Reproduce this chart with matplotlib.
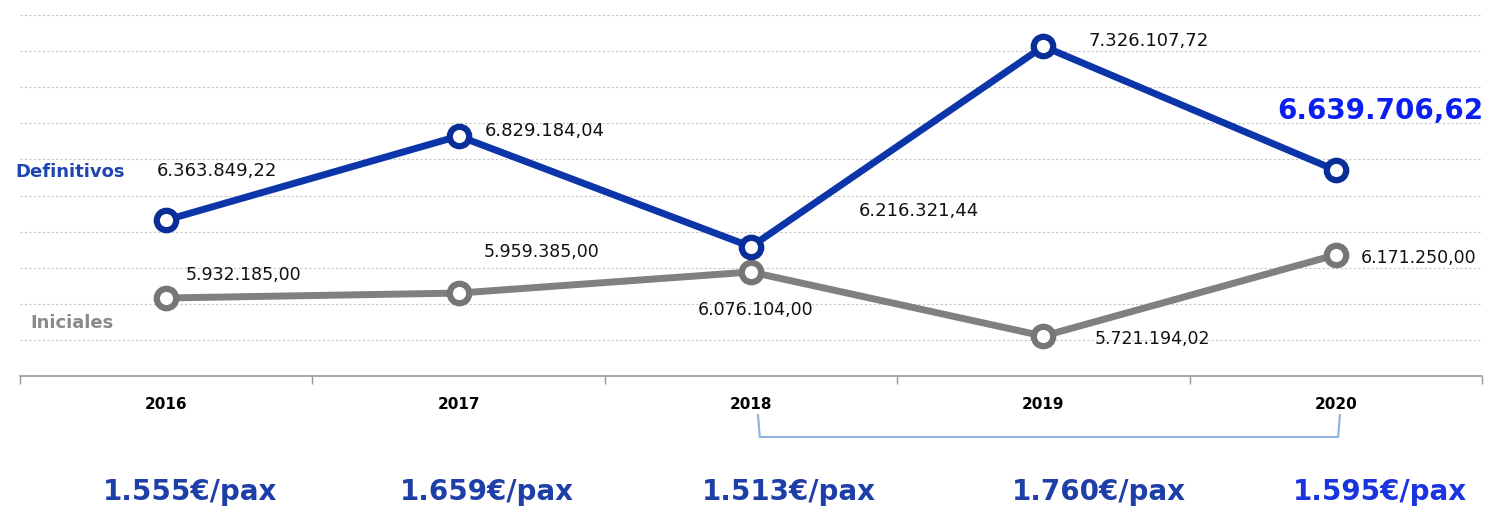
import matplotlib.pyplot as plt
import matplotlib.transforms as mtransforms
from matplotlib.lines import Line2D
import numpy as np

# Datos
years = ["2016", "2017", "2018", "2019", "2020"]
definitivos = [6363849.22, 6829184.04, 6216321.44, 7326107.72, 6639706.62]
iniciales = [5932185.00, 5959385.00, 6076104.00, 5721194.02, 6171250.00]
per_pax = ["1.555€/pax", "1.659€/pax", "1.513€/pax", "1.760€/pax", "1.595€/pax"]


def fmt_es(v):
    s = f"{v:,.2f}"
    return s.replace(",", "X").replace(".", ",").replace("X", ".")


BLUE = "#0b35a8"
GRAY = "#808080"

fig = plt.figure(figsize=(14.88, 5.09), dpi=100)
ax = fig.add_axes([20 / 1488, 133 / 509, 1462 / 1488, 361 / 509])

x = np.arange(len(years))

ax.plot(x, iniciales, color=GRAY, lw=5, marker="o", ms=14, mew=4.5,
        mfc="white", mec="#767676", zorder=3, solid_capstyle="round")
ax.plot(x, definitivos, color=BLUE, lw=5, marker="o", ms=14, mew=4.5,
        mfc="white", mec="#0a2e98", zorder=4, solid_capstyle="round")

ax.set_xlim(-0.5, len(years) - 0.5)
ax.set_ylim(5500000, 7500000)
ax.set_yticks(np.arange(5700000, 7500001, 200000))
ax.yaxis.grid(True, color="#c4c4c4", linestyle=(0, (2, 2)), lw=0.8)
ax.set_axisbelow(True)
ax.tick_params(axis="y", length=0, labelleft=False)

ax.set_xticks(x)
ax.set_xticklabels(years, fontsize=11, fontweight="bold")
ax.set_xticks(np.arange(-0.5, len(years)), minor=True)
ax.tick_params(axis="x", which="major", length=0, pad=15)
ax.tick_params(axis="x", which="minor", length=6, color="#999999", width=1)

for s in ["top", "right", "left"]:
    ax.spines[s].set_visible(False)
ax.spines["bottom"].set_color("#999999")
ax.spines["bottom"].set_linewidth(1.2)

# etiquetas de datos (offsets en píxeles)
def_off = [(-9, 49), (26, 5), (108, 36), (45, 5), (-59, 59)]
ini_off = [(19, 23), (25, 41), (-53, -38), (51, -3), (25, -3)]

for i, v in enumerate(definitivos):
    if i == len(definitivos) - 1:
        ax.annotate(fmt_es(v), (x[i], v), xytext=def_off[i], textcoords="offset pixels",
                    ha="left", va="center", fontsize=20, fontweight="bold", color="#0a1ef0")
    else:
        ax.annotate(fmt_es(v), (x[i], v), xytext=def_off[i], textcoords="offset pixels",
                    ha="left", va="center", fontsize=13, color="#111111")

for i, v in enumerate(iniciales):
    ax.annotate(fmt_es(v), (x[i], v), xytext=ini_off[i], textcoords="offset pixels",
                ha="left", va="center", fontsize=12.5, color="#111111")

fig.text(15 / 1488, 1 - 172 / 509, "Definitivos", fontsize=13, fontweight="bold",
         color="#1f45b0", ha="left", va="center")
fig.text(30 / 1488, 1 - 323 / 509, "Iniciales", fontsize=13, fontweight="bold",
         color="#8a8a8a", ha="left", va="center")

# €/pax debajo
trans = mtransforms.blended_transform_factory(ax.transData, fig.transFigure)
pax_x = [0.08, 0.095, 0.13, 0.19, 0.15]
pax_colors = ["#1f3fa8"] * 4 + ["#1a34e0"]
for i, t in enumerate(per_pax):
    ax.text(x[i] + pax_x[i], 1 - 492 / 509, t, transform=trans, ha="center", va="center",
            fontsize=20, fontweight="bold", color=pax_colors[i], clip_on=False)

# corchete 2018-2020
bx = [2.024, 2.03, 4.008, 4.014]
by = [1 - 415 / 509, 1 - 437 / 509, 1 - 437 / 509, 1 - 415 / 509]
fig.add_artist(Line2D(bx, by, transform=trans, color="#8db3e2", lw=1.5))

fig.savefig("out.png", dpi=100)
